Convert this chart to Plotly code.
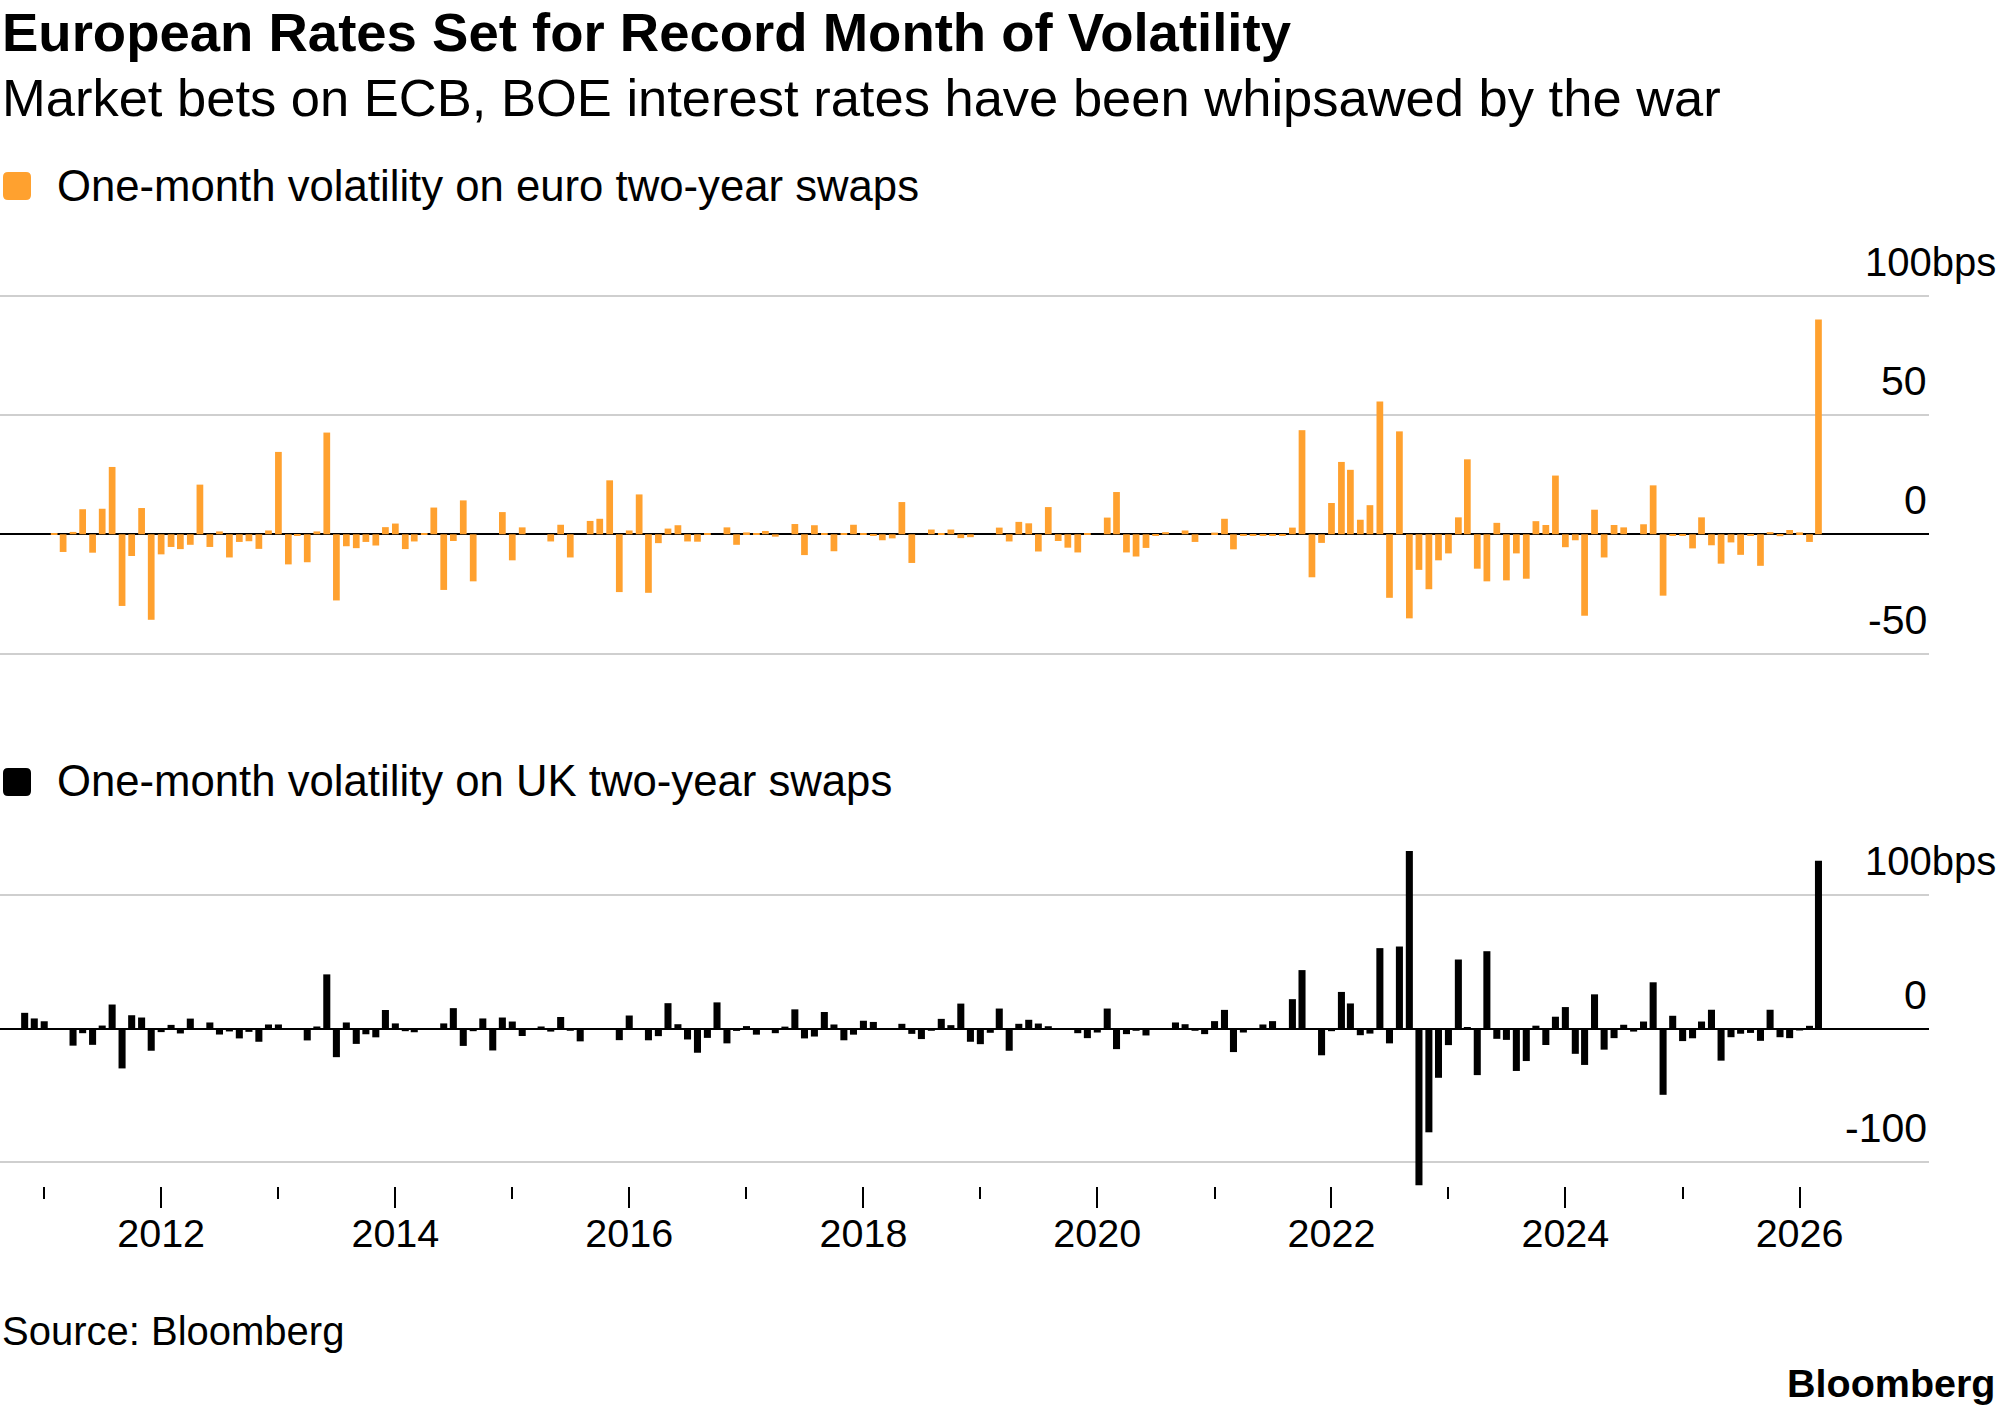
import pandas as pd
import plotly.graph_objects as go

# ---------------- data ----------------
title = "European Rates Set for Record Month of Volatility"
subtitle = "Market bets on ECB, BOE interest rates have been whipsawed by the war"
legend_eur = "One-month volatility on euro two-year swaps"
legend_uk = "One-month volatility on UK two-year swaps"
source_text = "Source: Bloomberg"
brand_text = "Bloomberg"

first_month = "2010-11-01"   # monthly observations, Nov 2010 .. Mar 2026

# change in one-month volatility, bps (euro two-year swaps)
eur_vol_change = [
    0, 0,                                                             # 2010 Nov-Dec
    0, 0.5, -7.4, 1, 10.5, -7.7, 10.7, 28.2, -30, -9.1, 11, -35.8,    # 2011
    -8.4, -5.3, -6.2, -4.4, 20.8, -5.3, 1.2, -9.7, -3.2, -2.9, -6.1, 1.6,  # 2012
    34.5, -12.6, -0.5, -11.7, 1.2, 42.6, -27.7, -5, -5.8, -3.2, -4.7, 3,   # 2013
    4.5, -6.2, -3, 0.5, 11.2, -23.3, -2.8, 14.2, -19.7, 0, 0, 9.3,         # 2014
    -10.9, 2.9, 0, 0, -3, 4, -9.7, 0, 5.6, 6.5, 22.6, -24.2,               # 2015
    1.6, 16.7, -24.5, -3.7, 2.4, 3.8, -3, -3.1, 0.3, 0, 2.9, -4.4,         # 2016
    0.8, 0.3, 1.4, -1, 0, 4.3, -8.7, 3.8, 0.5, -7.1, 0.3, 4,               # 2017
    0.5, -0.3, -2.5, -1.7, 13.5, -12, 0, 2, 0.3, 2, -1.6, -1.2,            # 2018
    0, 0, 2.8, -3, 5.2, 4.6, -7.2, 11.4, -2.8, -5.6, -7.6, 0.5,            # 2019
    0, 7, 17.7, -7.6, -9.3, -5.7, -0.5, 0.9, 0, 1.6, -3.2, 0,              # 2020
    0.7, 6.5, -6.3, -0.6, -0.5, -0.5, -0.6, -0.4, 2.8, 43.6, -18, -3.6,    # 2021
    13.1, 30.3, 27, 6.1, 12.2, 55.6, -26.6, 43.1, -35.2, -14.9, -23, -10.9,  # 2022
    -8, 7.1, 31.4, -14.4, -19.7, 4.8, -19.3, -8, -18.6, 5.5, 3.9, 24.6,    # 2023
    -5.4, -2.5, -34.1, 10.3, -9.7, 3.9, 2.9, 0, 4.2, 20.5, -25.7, -0.4,    # 2024
    -0.4, -5.9, 7.1, -4.6, -12.3, -3.4, -8.6, -0.5, -13.2, 0.9, -0.8, 1.8, # 2025
    0.8, -3.2, 90,                                                    # 2026 Jan-Mar
]

# change in one-month volatility, bps (UK two-year swaps)
uk_vol_change = [
    11.7, 7.5,                                                        # 2010 Nov-Dec
    5.4, 0, 0, -12.8, -3.5, -12.2, 2.2, 17.9, -29.8, 9.9, 8.2, -16.6,      # 2011
    -2.7, 2.7, -3.7, 7.4, 0.3, 4.5, -4.5, -2.2, -7.4, -2.5, -9.9, 3,       # 2012
    3, 0, 0, -8.9, 1.5, 40.4, -21.4, 4.5, -11.5, -4.3, -6.6, 13.8,         # 2013
    3.8, -2, -2.8, 0, 0, 3.8, 15.2, -13, -2, 7.5, -16.4, 8.2,              # 2014
    5.2, -5.6, 0, 1.5, -2.3, 8.6, -1.7, -9.6, 0, 0, 0, -8.7,               # 2015
    9.7, 0, -8.8, -5.7, 18.9, 3.2, -8.2, -18.1, -7, 19.5, -11.1, -1.8,     # 2016
    1.8, -4.6, 0, -3.5, 1.4, 14.3, -7.4, -6, 12.3, 3, -8.8, -4.6,          # 2017
    5.8, 4.9, -1, 0, 3.5, -4, -7.9, -1.7, 7.2, 2.5, 18.6, -9.9,            # 2018
    -11.7, -3.2, 14.9, -16.6, 3.5, 6.5, 3.7, 1.7, 0, 0, -3.5, -7.2,        # 2019
    -3, 14.9, -15.4, -4.2, -1.7, -5.2, 0, 0, 4.5, 3.2, -1.7, -4.2,         # 2020
    5.5, 13.9, -17.6, -3, 0, 3, 5.5, 0, 21.9, 43.6, 0, -20,                # 2021
    -2, 27.3, 18.7, -5, -3.8, 60, -11.1, 61.2, 132.5, -117, -77.5, -36.8,  # 2022
    -12.4, 51.5, 1, -34.8, 57.7, -7.7, -8.5, -31.7, -24.3, 2.1, -12.3, 8.8,  # 2023
    16, -18.9, -27.2, 25.5, -15.8, -7.2, 2.8, -2.3, 5.2, 34.5, -49.5, 9.5, # 2024
    -9.4, -7.3, 5.2, 14, -24, -6.5, -3.9, -3.3, -9.2, 14, -6.5, -7.2,      # 2025
    -1.5, 2, 125.3,                                                   # 2026 Jan-Mar
]

months = pd.date_range(first_month, periods=len(eur_vol_change), freq="MS")

eur_ticks = [100, 50, 0, -50]
uk_ticks = [100, 0, -100]
tick_unit = "bps"
major_years = ["2012-01-01", "2014-01-01", "2016-01-01", "2018-01-01",
               "2020-01-01", "2022-01-01", "2024-01-01", "2026-01-01"]
major_labels = ["2012", "2014", "2016", "2018", "2020", "2022", "2024", "2026"]
minor_years = ["2011-01-01", "2013-01-01", "2015-01-01", "2017-01-01",
               "2019-01-01", "2021-01-01", "2023-01-01", "2025-01-01"]

# ---------------- styling / layout ----------------
W, H = 2001, 1413
ORANGE = "#FFA12F"
GRID = "#cfcfcf"
FONT = "Liberation Sans, Arial, sans-serif"
DAY_MS = 86400000


def py(px):
    return 1 - px / H


def pxx(px):
    return px / W


plot_right = 1929
x_range = ["2010-08-16", "2027-02-09"]

# top panel pixel geometry
top_zero, top_ppb = 534.3, 2.388
top_px0, top_px1 = 280, 665
# bottom panel pixel geometry
bot_zero, bot_ppb = 1028.5, 1.3395
bot_px0, bot_px1 = 840, 1186

fig = go.Figure()
fig.add_trace(go.Bar(x=months, y=eur_vol_change, marker=dict(color=ORANGE, line_width=0),
                     width=21 * DAY_MS, xaxis="x", yaxis="y", hoverinfo="x+y"))
fig.add_trace(go.Bar(x=months, y=uk_vol_change, marker=dict(color="black", line_width=0),
                     width=22 * DAY_MS, xaxis="x2", yaxis="y2", hoverinfo="x+y"))

common_y = dict(showticklabels=False, ticks="", showgrid=True, gridcolor=GRID, gridwidth=2,
                zeroline=True, zerolinecolor="black", zerolinewidth=2, showline=False)

fig.update_layout(
    width=W, height=H, margin=dict(l=0, r=0, t=0, b=0),
    paper_bgcolor="white", plot_bgcolor="white", showlegend=False,
    font=dict(family=FONT, color="black"),
    xaxis=dict(domain=[0, pxx(plot_right)], range=x_range, type="date", anchor="y",
               showticklabels=False, ticks="", showgrid=False, zeroline=False, showline=False),
    yaxis=dict(domain=[py(top_px1), py(top_px0)],
               range=[(top_zero - top_px1) / top_ppb, (top_zero - top_px0) / top_ppb],
               tickvals=eur_ticks, anchor="x", **common_y),
    xaxis2=dict(domain=[0, pxx(plot_right)], range=x_range, type="date", anchor="y2",
                tickmode="array", tickvals=major_years, ticktext=major_labels,
                ticks="outside", ticklen=21, tickwidth=2, tickcolor="black",
                ticklabelstandoff=-8,
                minor=dict(tickmode="array", tickvals=minor_years, ticks="outside", ticklen=12,
                           tickwidth=2, tickcolor="black", showgrid=False),
                tickfont=dict(family=FONT, size=39.5, color="black"),
                showgrid=False, zeroline=False, showline=False),
    yaxis2=dict(domain=[py(bot_px1), py(bot_px0)],
                range=[(bot_zero - bot_px1) / bot_ppb, (bot_zero - bot_px0) / bot_ppb],
                tickvals=uk_ticks, anchor="x2", **common_y),
)

ann = []
# title & subtitle
ann.append(dict(text=title, x=0, y=py(33), xref="paper", yref="paper", xanchor="left",
                yanchor="middle", showarrow=False,
                font=dict(family=FONT, size=54.5, color="black", weight="bold")))
ann.append(dict(text=subtitle, x=0, y=py(97), xref="paper", yref="paper", xanchor="left",
                yanchor="middle", showarrow=False, font=dict(family=FONT, size=52.5, color="black")))
# legend texts
for txt, ypx in [(legend_eur, 186), (legend_uk, 781)]:
    ann.append(dict(text=txt, x=pxx(55), y=py(ypx), xref="paper", yref="paper", xanchor="left",
                    yanchor="middle", showarrow=False, font=dict(family=FONT, size=43.7, color="black")))


# y tick labels above gridlines
def tick_labels(ticks, yref):
    out = []
    for i, v in enumerate(ticks):
        if i == 0:
            out.append(dict(text=f"{v:g}{tick_unit}", x=pxx(plot_right - 66), y=v, xref="paper",
                            yref=yref, xanchor="left", yanchor="middle", yshift=34,
                            showarrow=False, font=dict(family=FONT, size=40, color="black")))
        else:
            out.append(dict(text=f"{v:g}", x=pxx(plot_right), y=v, xref="paper", yref=yref,
                            xanchor="right", yanchor="middle", yshift=34, showarrow=False,
                            font=dict(family=FONT, size=41, color="black")))
    return out


ann += tick_labels(eur_ticks, "y")
ann += tick_labels(uk_ticks, "y2")

ann.append(dict(text=source_text, x=0, y=py(1331), xref="paper", yref="paper", xanchor="left",
                yanchor="middle", showarrow=False, font=dict(family=FONT, size=40, color="black")))
ann.append(dict(text=brand_text, x=pxx(1997), y=py(1383), xref="paper", yref="paper",
                xanchor="right", yanchor="middle", showarrow=False,
                font=dict(family=FONT, size=39.5, color="black", weight="bold")))
fig.update_layout(annotations=ann)


# legend swatches (rounded squares)
def rrect(x0, y0, x1, y1, r):
    X = lambda v: pxx(v)
    Y = lambda v: py(v)
    return (f"M {X(x0 + r)},{Y(y0)} L {X(x1 - r)},{Y(y0)} Q {X(x1)},{Y(y0)} {X(x1)},{Y(y0 + r)} "
            f"L {X(x1)},{Y(y1 - r)} Q {X(x1)},{Y(y1)} {X(x1 - r)},{Y(y1)} "
            f"L {X(x0 + r)},{Y(y1)} Q {X(x0)},{Y(y1)} {X(x0)},{Y(y1 - r)} "
            f"L {X(x0)},{Y(y0 + r)} Q {X(x0)},{Y(y0)} {X(x0 + r)},{Y(y0)} Z")


shapes = []
for color, cy in [(ORANGE, 186), ("black", 782)]:
    shapes.append(dict(type="path", xref="paper", yref="paper",
                       path=rrect(3, cy - 14, 31, cy + 14, 5),
                       fillcolor=color, line=dict(width=0)))
fig.update_layout(shapes=shapes)

fig.write_html("out.html", config={"displayModeBar": False},
               post_script="document.body.style.margin='0';document.body.style.overflow='hidden';")
